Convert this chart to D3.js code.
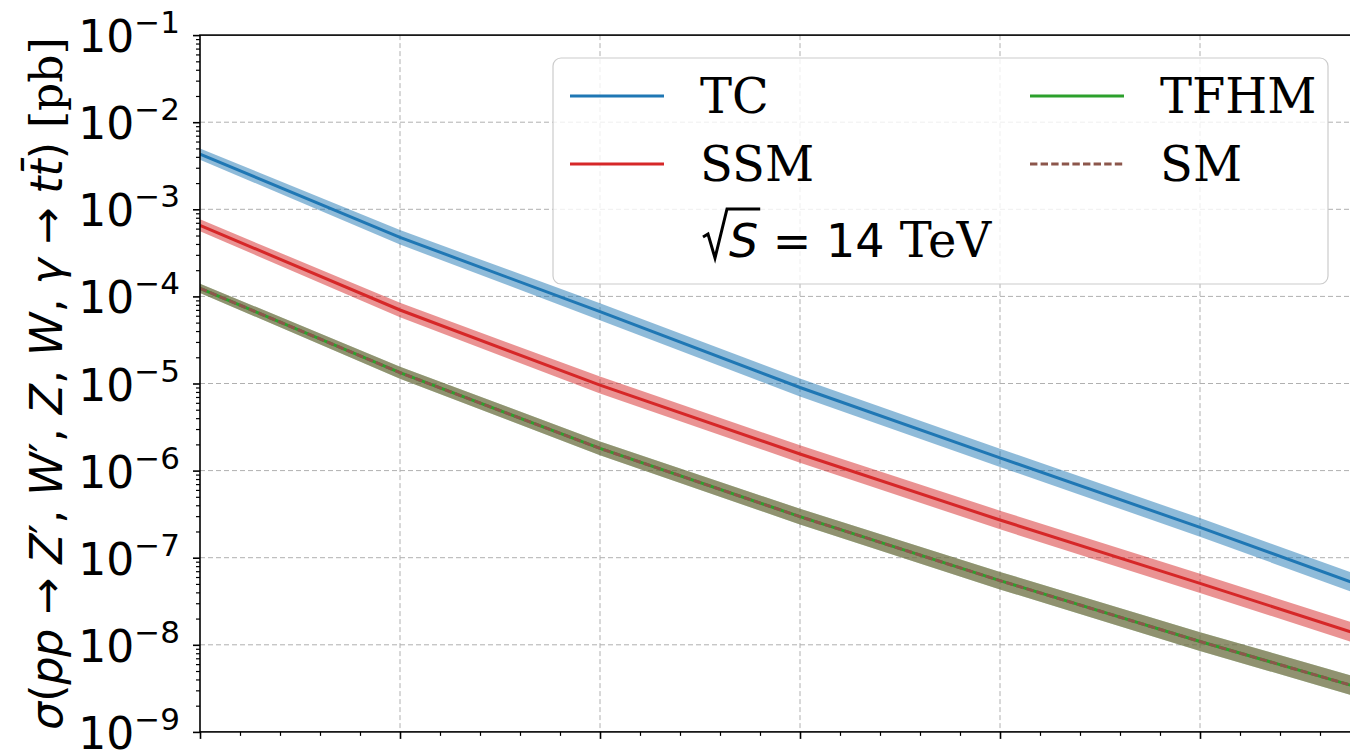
<!DOCTYPE html>
<html>
<head>
<meta charset="utf-8">
<script src="https://cdn.jsdelivr.net/npm/d3@7"></script>
<style>
  body { margin: 0; background: #fff; }
  svg { display: block; }
  text { white-space: pre; }
</style>
</head>
<body>
<svg id="chart"></svg>
<script>
//Data (mass points in GeV, cross sections in pb)
var massPoints = [1000, 2000, 3000, 4000, 5000, 6000, 7000];
var tcValues   = [4.31e-3, 4.77e-4, 6.67e-5, 9.0e-6, 1.4e-6, 2.23e-7, 3.29e-8];
var ssmValues  = [6.55e-4, 6.98e-5, 9.6e-6, 1.55e-6, 2.71e-7, 5.08e-8, 9.25e-9];
var tfhmValues = [1.24e-4, 1.33e-5, 1.80e-6, 2.96e-7, 5.45e-8, 1.09e-8, 2.36e-9];
var smValues   = [1.24e-4, 1.33e-5, 1.80e-6, 2.96e-7, 5.45e-8, 1.09e-8, 2.36e-9];
//relative uncertainty used for the shaded bands
var tcUnc   = [0.16, 0.21, 0.25, 0.27, 0.27, 0.28, 0.29];
var ssmUnc  = [0.17, 0.21, 0.25, 0.26, 0.28, 0.29, 0.30];
var tfhmUnc = [0.13, 0.17, 0.20, 0.23, 0.26, 0.28, 0.30];
var smUnc   = [0.13, 0.17, 0.20, 0.23, 0.26, 0.28, 0.30];
var yTickExps = [-1, -2, -3, -4, -5, -6, -7, -8, -9];
var xMajorTicks = [1000, 2000, 3000, 4000, 5000, 6000, 7000];
var legendLabels = ["TC", "SSM", "TFHM", "SM"];

//Define sizes
var svgWidth = 1350;
var svgHeight = 750;
var plotLeft = 200, plotRight = 1400, plotTop = 35.1, plotBottom = 731.9;

var colors = {
    "tc": "#1f77b4",
    "ssm": "#d62728",
    "tfhm": "#2ca02c",
    "sm": "#8c564b",
    "grid": "#b0b0b0",
    "black": "black"
};

var mathFont = "'DejaVu Sans', sans-serif";
var textFont = "'DejaVu Serif', serif";

var svg = d3.select("#chart").attr("width", svgWidth).attr("height", svgHeight);

var x = d3.scaleLinear().domain([1000, 7000]).range([plotLeft, plotRight]);
var y = d3.scaleLog().domain([1e-9, 1e-1]).range([plotBottom, plotTop]);

//clip for the curves
svg.append("clipPath").attr("id", "plotClip")
    .append("rect")
    .attr("x", plotLeft).attr("y", plotTop)
    .attr("width", plotRight - plotLeft).attr("height", plotBottom - plotTop);

//grid lines
var grid = svg.append("g").attr("class", "grid");
grid.selectAll("line.gx")
    .data(xMajorTicks.slice(1))
    .enter().append("line")
    .attr("x1", function(d) {return x(d);})
    .attr("x2", function(d) {return x(d);})
    .attr("y1", plotTop).attr("y2", plotBottom)
    .attr("stroke", colors.grid).attr("stroke-width", 1)
    .attr("stroke-dasharray", "5,3");
grid.selectAll("line.gy")
    .data(yTickExps.slice(1, -1))
    .enter().append("line")
    .attr("x1", plotLeft).attr("x2", plotRight)
    .attr("y1", function(d) {return y(Math.pow(10, d));})
    .attr("y2", function(d) {return y(Math.pow(10, d));})
    .attr("stroke", colors.grid).attr("stroke-width", 1)
    .attr("stroke-dasharray", "5,3");

//bands + lines
var area = d3.area()
    .x(function(d) {return x(d.m);})
    .y0(function(d) {return y(d.v / (1 + d.u));})
    .y1(function(d) {return y(d.v * (1 + d.u));});
var line = d3.line()
    .x(function(d) {return x(d.m);})
    .y(function(d) {return y(d.v);});

function makeSeries(values, unc) {
    return massPoints.map(function(m, i) {return {m: m, v: values[i], u: unc[i]};});
}

var series = [
    {key: "tc", data: makeSeries(tcValues, tcUnc), dash: null},
    {key: "ssm", data: makeSeries(ssmValues, ssmUnc), dash: null},
    {key: "tfhm", data: makeSeries(tfhmValues, tfhmUnc), dash: null},
    {key: "sm", data: makeSeries(smValues, smUnc), dash: "7.4,3.2"}
];

var curves = svg.append("g").attr("clip-path", "url(#plotClip)");
series.forEach(function(s) {
    curves.append("path")
        .attr("d", area(s.data))
        .attr("fill", colors[s.key])
        .attr("fill-opacity", 0.5);
});
series.forEach(function(s) {
    curves.append("path")
        .attr("d", line(s.data))
        .attr("fill", "none")
        .attr("stroke", colors[s.key])
        .attr("stroke-width", 3)
        .attr("stroke-dasharray", s.dash);
});

//axes
var yMinor = [];
yTickExps.forEach(function(e) {
    if (e == -1) return;
    for (var k = 2; k <= 9; k++) yMinor.push(k * Math.pow(10, e));
});
var xMinor = d3.range(1000, 7001, 200).filter(function(d) {return d % 1000 != 0;});

function styleAxis(g) {
    g.select(".domain").remove();
    g.selectAll(".tick line").attr("stroke", colors.black).attr("stroke-width", 1.6);
}

svg.append("g")
    .attr("transform", "translate(" + plotLeft + ",0)")
    .call(d3.axisLeft(y).tickValues(yTickExps.map(function(e) {return Math.pow(10, e);})).tickSize(7).tickFormat(""))
    .call(styleAxis);
svg.append("g")
    .attr("transform", "translate(" + plotLeft + ",0)")
    .call(d3.axisLeft(y).tickValues(yMinor).tickSize(4).tickFormat(""))
    .call(styleAxis)
    .selectAll(".tick line").attr("stroke-width", 1.2);
svg.append("g")
    .attr("transform", "translate(0," + plotBottom + ")")
    .call(d3.axisBottom(x).tickValues(xMajorTicks).tickSize(7).tickFormat(""))
    .call(styleAxis);
svg.append("g")
    .attr("transform", "translate(0," + plotBottom + ")")
    .call(d3.axisBottom(x).tickValues(xMinor).tickSize(4).tickFormat(""))
    .call(styleAxis)
    .selectAll(".tick line").attr("stroke-width", 1.2);

//frame (spines)
svg.append("rect")
    .attr("x", plotLeft).attr("y", plotTop)
    .attr("width", plotRight - plotLeft).attr("height", plotBottom - plotTop)
    .attr("fill", "none").attr("stroke", colors.black).attr("stroke-width", 1.6);

//y tick labels 10^-n
var yLabels = svg.append("g");
yTickExps.forEach(function(e) {
    var ty = y(Math.pow(10, e));
    var t = yLabels.append("text")
        .attr("x", 180).attr("y", ty + 17)
        .attr("text-anchor", "end")
        .style("font-family", mathFont)
        .style("font-size", "44px");
    t.append("tspan").text("10");
    t.append("tspan").attr("dy", -19).style("font-size", "31px").text("\u2212" + (-e));
});

//y axis title
var yTitle = svg.append("text")
    .attr("transform", "translate(62," + ((plotTop + plotBottom) / 2) + ") rotate(-90)")
    .attr("text-anchor", "middle")
    .style("font-size", "44px");
var titleRuns = [
    ["\u03c3", "italic", mathFont], ["(", "normal", mathFont], ["pp", "italic", mathFont],
    [" \u2192 ", "normal", mathFont], ["Z", "italic", mathFont], ["\u2032, ", "normal", mathFont],
    ["W", "italic", mathFont], ["\u2032, ", "normal", mathFont], ["Z", "italic", mathFont],
    [", ", "normal", mathFont], ["W", "italic", mathFont], [", ", "normal", mathFont],
    ["\u03b3", "italic", mathFont], [" \u2192 ", "normal", mathFont], ["tt\u0304", "italic", mathFont],
    [")", "normal", mathFont], [" [pb]", "normal", textFont]
];
titleRuns.forEach(function(r) {
    yTitle.append("tspan").style("font-style", r[1]).style("font-family", r[2]).text(r[0]);
});

//legend
var legend = svg.append("g");
legend.append("rect")
    .attr("x", 553).attr("y", 58).attr("width", 775).attr("height", 226)
    .attr("rx", 8)
    .attr("fill", "white").attr("fill-opacity", 0.8)
    .attr("stroke", "#cccccc").attr("stroke-width", 1.2);

var legendItems = [
    {label: legendLabels[0], key: "tc", col: 0, row: 0, dash: null},
    {label: legendLabels[1], key: "ssm", col: 0, row: 1, dash: null},
    {label: legendLabels[2], key: "tfhm", col: 1, row: 0, dash: null},
    {label: legendLabels[3], key: "sm", col: 1, row: 1, dash: "7.4,3.2"}
];
var colX = [570, 1030];
var rowY = [96, 164, 232];
legendItems.forEach(function(it) {
    var lx = colX[it.col], ly = rowY[it.row];
    legend.append("line")
        .attr("x1", lx).attr("x2", lx + 94)
        .attr("y1", ly).attr("y2", ly)
        .attr("stroke", colors[it.key]).attr("stroke-width", 3)
        .attr("stroke-dasharray", it.dash);
    legend.append("text")
        .attr("x", lx + 130).attr("y", ly + 17)
        .style("font-family", textFont).style("font-size", "48px")
        .text(it.label);
});

//sqrt(S) = 14 TeV entry, laid out run by run
function drawRuns(g, x0, base, runs) {
    var cx = x0;
    runs.forEach(function(r) {
        var t = g.append("text")
            .attr("x", cx).attr("y", base)
            .style("font-family", r.font).style("font-style", r.style)
            .style("font-size", r.size + "px")
            .text(r.t);
        r.x0 = cx;
        r.w = t.node().getComputedTextLength();
        cx += r.w;
    });
    return runs;
}
var sBase = 257;
var rootX = 703;
var rootRuns = drawRuns(legend, rootX + 26, sBase, [
    {t: "S", font: mathFont, style: "italic", size: 46},
    {t: " = 14", font: mathFont, style: "normal", size: 46},
    {t: " TeV", font: textFont, style: "normal", size: 48}
]);
legend.append("path")
    .attr("d", "M" + rootX + "," + (sBase - 20) +
        " L" + (rootX + 5) + "," + (sBase - 23) +
        " L" + (rootX + 12) + "," + (sBase + 1) +
        " L" + (rootX + 24) + "," + (sBase - 48) +
        " L" + (rootRuns[0].x0 + rootRuns[0].w + 2) + "," + (sBase - 48))
    .attr("fill", "none").attr("stroke", colors.black).attr("stroke-width", 3)
    .attr("stroke-linejoin", "miter");
</script>
</body>
</html>
